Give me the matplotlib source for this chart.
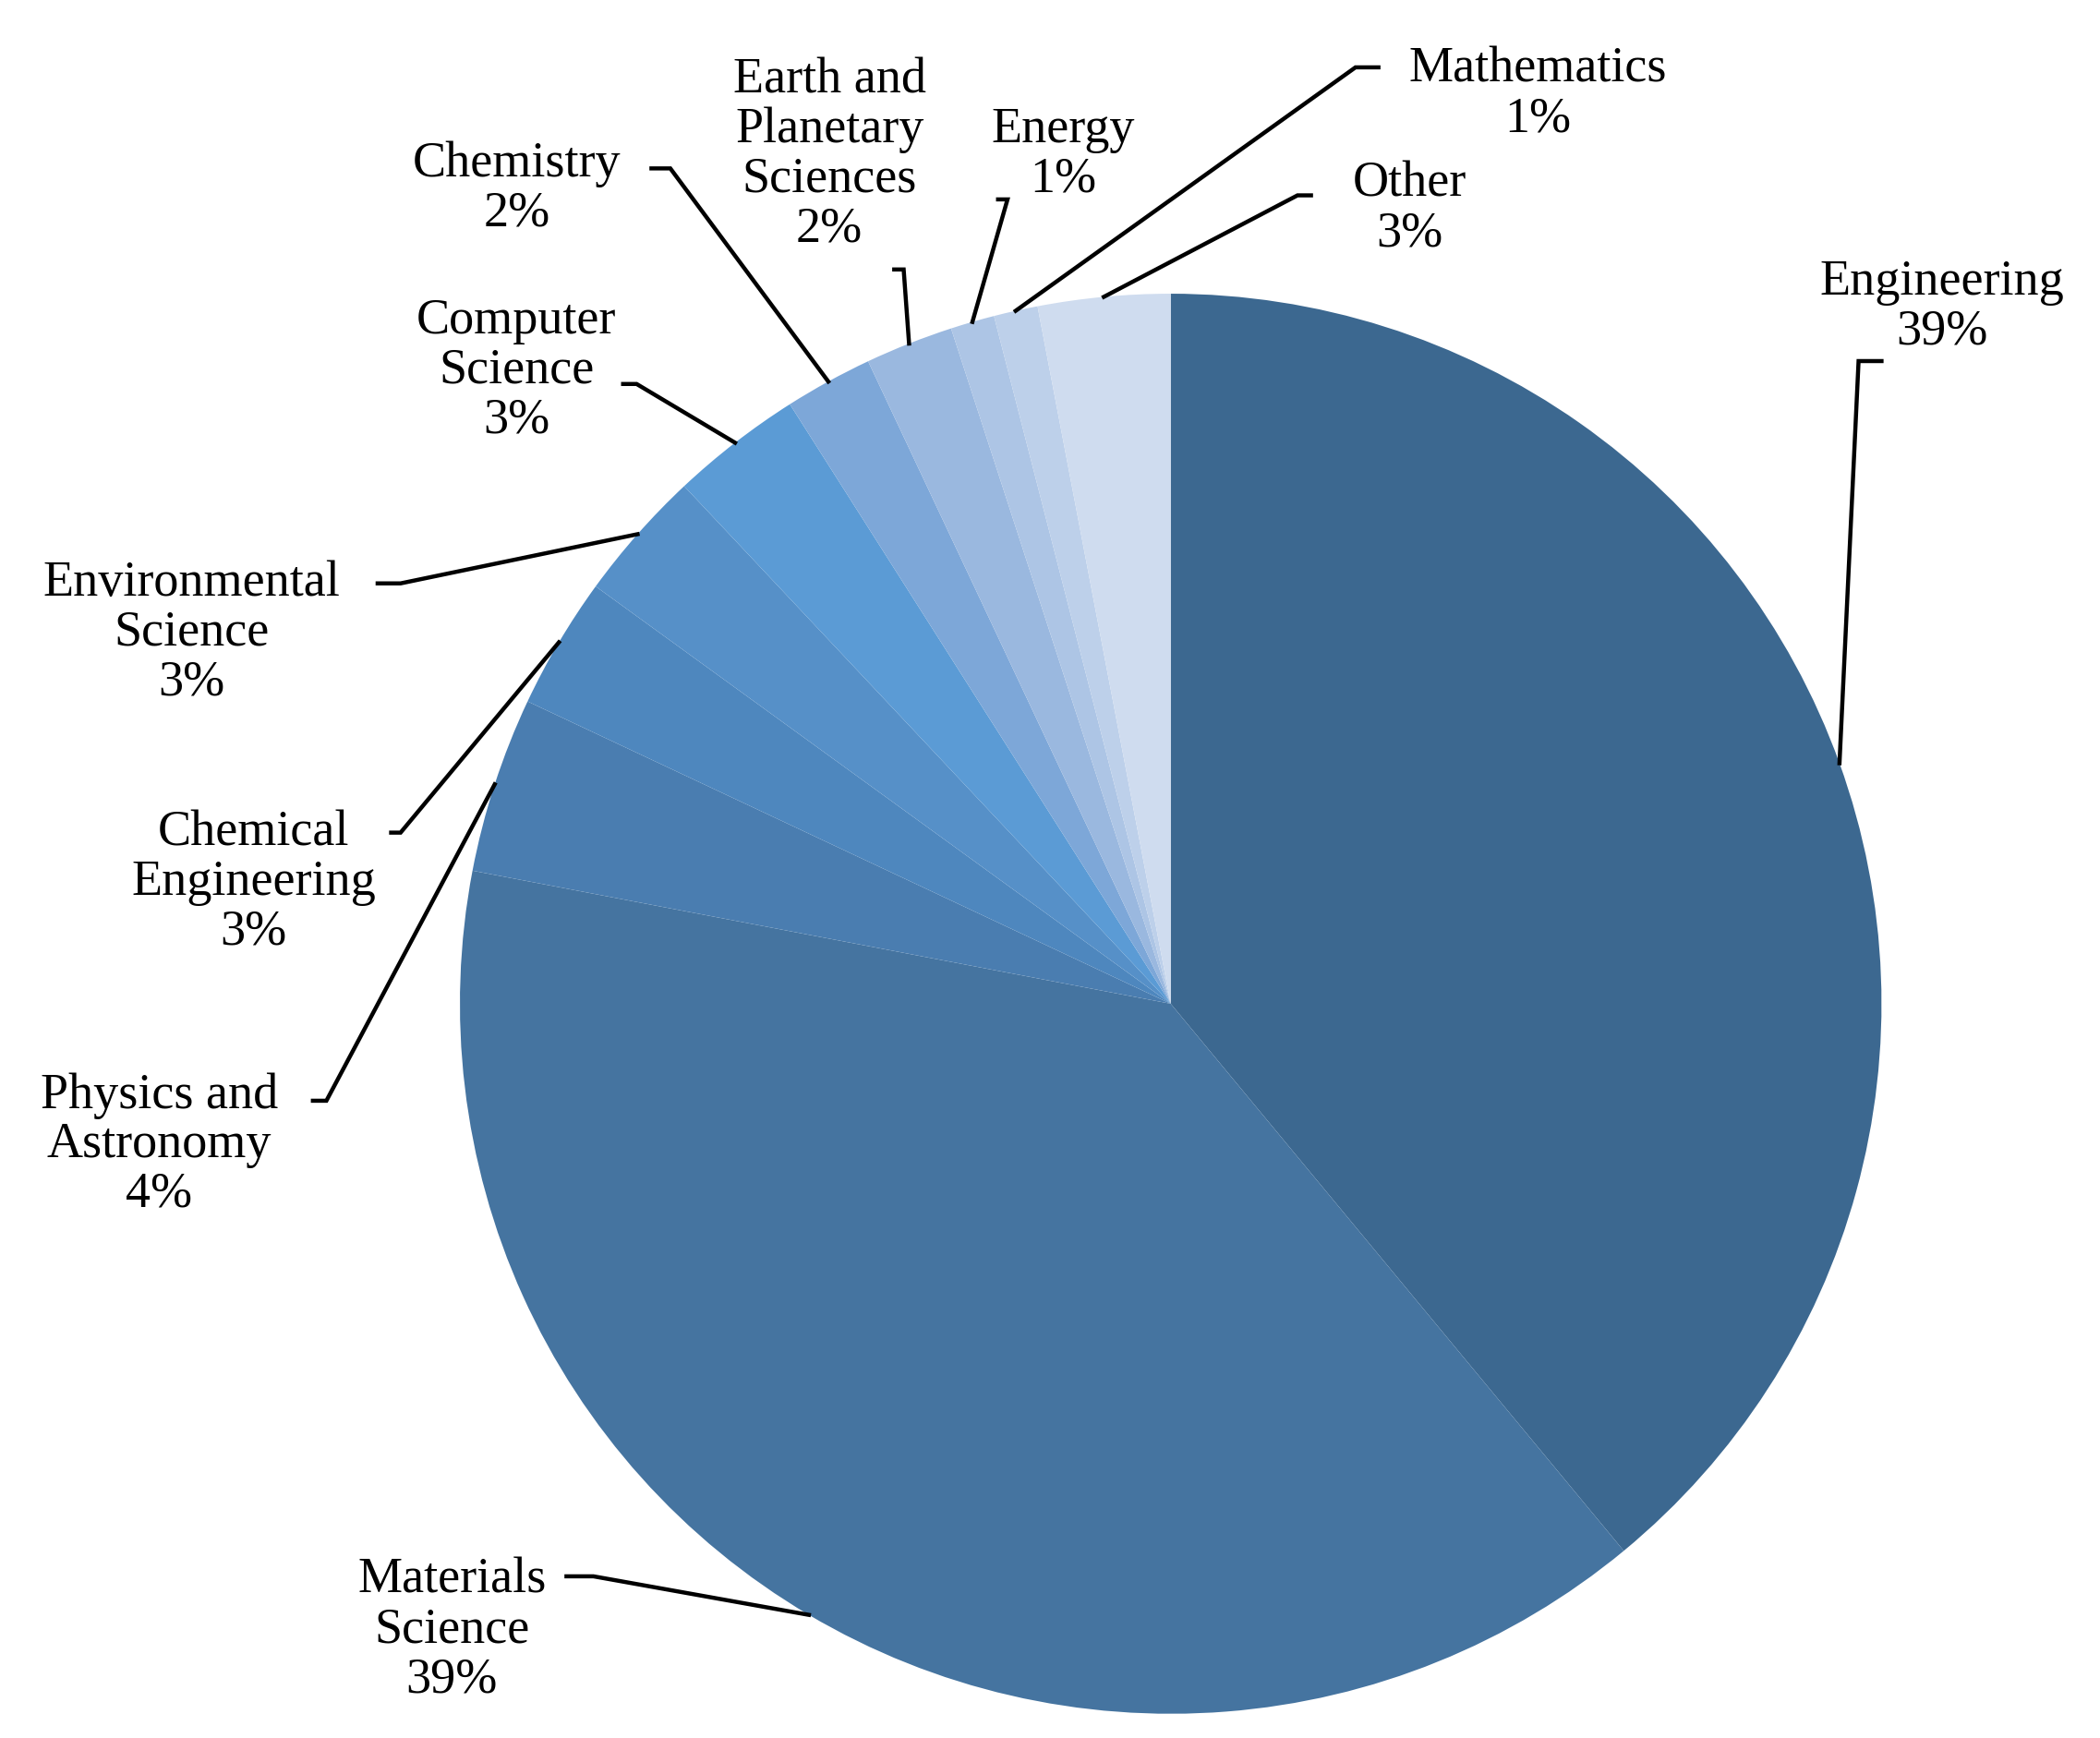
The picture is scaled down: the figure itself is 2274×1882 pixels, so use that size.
import numpy as np
import matplotlib
matplotlib.use("Agg")
import matplotlib.pyplot as plt

labels = ["Engineering", "Materials\nScience", "Physics and\nAstronomy", "Chemical\nEngineering",
          "Environmental\nScience", "Computer\nScience", "Chemistry", "Earth and\nPlanetary\nSciences",
          "Energy", "Mathematics", "Other"]
values = [39, 39, 4, 3, 3, 3, 2, 2, 1, 1, 3]
colors = ["#3C6890", "#4574A0", "#4A7DB0", "#4E87BE", "#5690C8", "#5B9BD5",
          "#7DA7D8", "#9AB8DF", "#ADC5E5", "#BDD0EA", "#CFDCEF"]

# layout in reference pixel space (y measured from top)
W, H = 1557, 1290
cx, cy, r = 868, 745, 527
text_pos = [(1440, 228), (335, 1210), (118, 850), (188, 655), (142, 470), (383, 275),
            (383, 140), (615, 115), (788, 115), (1140, 70), (1045, 155)]
elbow = [((1395, 268), (1378, 268)), ((420, 1170), (440, 1170)), ((232, 817), (242, 817)),
         ((290, 618), (297, 618)), ((280, 433), (297, 433)), ((462, 285), (472, 285)),
         ((483, 125), (497, 125)), ((663, 200), (670, 200)), ((740, 148), (747, 148)),
         ((1022, 50), (1005, 50)), ((972, 145), (962, 145))]

plt.rcParams["font.family"] = ["Liberation Serif", "DejaVu Serif"]
fig = plt.figure(figsize=(22.74, 18.82), dpi=100)
ax = fig.add_axes([0, 0, 1, 1])

ax.pie(values, colors=colors, startangle=90, counterclock=False,
       center=(cx, H - cy), radius=r, frame=True, wedgeprops=dict(linewidth=0))

total = sum(values)
start = 0.0
for lab, v, tp, (p0, p1) in zip(labels, values, text_pos, elbow):
    mid = np.deg2rad((start + v / 2) / total * 360)
    start += v
    ex = cx + r * np.sin(mid)
    ey = cy - r * np.cos(mid)
    ax.plot([p0[0], p1[0], ex], [H - p0[1], H - p1[1], H - ey], color="black", lw=3.2,
            solid_joinstyle="miter")
    ax.text(tp[0], H - tp[1], f"{lab}\n{v}%", ha="center", va="center",
            fontsize=39, linespacing=1.08)

ax.set_aspect("auto")
ax.set_xlim(0, W)
ax.set_ylim(0, H)
ax.axis("off")

fig.savefig("out.png", dpi=100)
